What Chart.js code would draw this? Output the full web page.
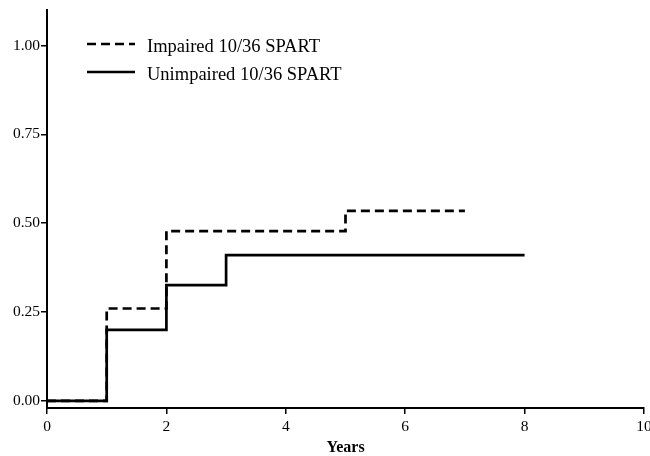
<!DOCTYPE html>
<html lang="en">
<head>
    <meta charset="UTF-8">
    <title>Cumulative incidence by SPART</title>
    <script src="https://cdn.jsdelivr.net/npm/chart.js"></script>
    <style>
        body { margin: 0; background: #fff; }
        #wrap { width: 650px; height: 456px; }
    </style>
</head>
<body>
    <div id="wrap"><canvas id="km-chart"></canvas></div>

    <script>
        // data
        const seriesNames = ['Impaired 10/36 SPART', 'Unimpaired 10/36 SPART'];
        const impairedYears = [0, 1, 2, 5, 7];
        const impairedValues = [0, 0.26, 0.478, 0.535, 0.535];
        const unimpairedYears = [0, 1, 2, 3, 8];
        const unimpairedValues = [0, 0.2, 0.326, 0.41, 0.41];
        const yTicks = [0, 0.25, 0.5, 0.75, 1.0];
        const xTicks = [0, 2, 4, 6, 8, 10];

        const serif = "'Liberation Serif', 'Times New Roman', serif";

        const toPoints = (xs, ys) => xs.map((x, i) => ({ x: x, y: ys[i] }));

        // legend drawn inside the plot area, like the original
        const insideLegend = {
            id: 'insideLegend',
            afterDraw(chart) {
                const ctx = chart.ctx;
                const rows = [
                    { label: seriesNames[0], dash: [9, 5], y: 44 },
                    { label: seriesNames[1], dash: [], y: 72 }
                ];
                ctx.save();
                ctx.strokeStyle = '#000';
                ctx.fillStyle = '#000';
                ctx.lineWidth = 2.7;
                ctx.font = '18.5px ' + serif;
                ctx.textBaseline = 'middle';
                rows.forEach(r => {
                    ctx.setLineDash(r.dash);
                    ctx.beginPath();
                    ctx.moveTo(87, r.y);
                    ctx.lineTo(135, r.y);
                    ctx.stroke();
                    ctx.fillText(r.label, 147, r.y + 3);
                });
                ctx.restore();
            }
        };

        new Chart(document.getElementById('km-chart'), {
            type: 'line',
            data: {
                datasets: [{
                    label: seriesNames[0],
                    data: toPoints(impairedYears, impairedValues),
                    stepped: 'before',
                    borderColor: '#000',
                    borderWidth: 2.7,
                    borderDash: [9, 5],
                    pointRadius: 0,
                    fill: false
                }, {
                    label: seriesNames[1],
                    data: toPoints(unimpairedYears, unimpairedValues),
                    stepped: 'before',
                    borderColor: '#000',
                    borderWidth: 2.7,
                    pointRadius: 0,
                    fill: false
                }]
            },
            options: {
                responsive: true,
                maintainAspectRatio: false,
                animation: false,
                layout: { padding: { top: 10, right: 6, left: 0, bottom: 0 } },
                plugins: {
                    legend: { display: false },
                    tooltip: { enabled: false }
                },
                scales: {
                    x: {
                        type: 'linear',
                        min: 0,
                        max: 10,
                        afterBuildTicks: s => { s.ticks = xTicks.map(v => ({ value: v })); },
                        afterFit: s => { s.height = 48; s.paddingLeft = 0; s.paddingRight = 0; },
                        border: { display: true, color: '#000', width: 2 },
                        grid: { drawOnChartArea: false, drawTicks: true, tickLength: 6, color: '#000', lineWidth: 1.5 },
                        ticks: {
                            color: '#000',
                            padding: 4,
                            maxRotation: 0,
                            font: { family: serif, size: 15.5 }
                        },
                        title: {
                            display: true,
                            text: 'Years',
                            color: '#000',
                            padding: { top: 0, bottom: 0 },
                            font: { family: serif, size: 16, weight: 'bold', lineHeight: 1.0 }
                        }
                    },
                    y: {
                        min: -0.02,
                        max: 1.1,
                        afterBuildTicks: s => { s.ticks = yTicks.map(v => ({ value: v })); },
                        afterFit: s => { s.width = 47; s.paddingTop = 0; s.paddingBottom = 0; },
                        border: { display: true, color: '#000', width: 2 },
                        grid: { drawOnChartArea: false, drawTicks: true, tickLength: 6, color: '#000', lineWidth: 1.5 },
                        ticks: {
                            color: '#000',
                            padding: 1,
                            font: { family: serif, size: 15.5 },
                            callback: v => v.toFixed(2)
                        }
                    }
                }
            },
            plugins: [insideLegend]
        });
    </script>
</body>
</html>
